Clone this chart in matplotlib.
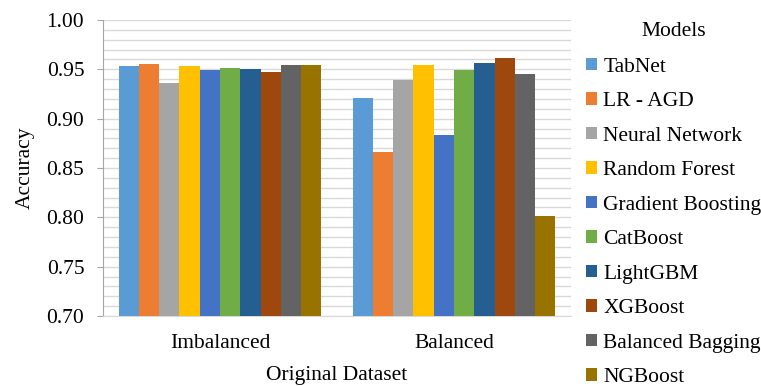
import matplotlib
matplotlib.use("Agg")
import matplotlib.pyplot as plt
import numpy as np
from matplotlib.ticker import MultipleLocator

plt.rcParams['font.family'] = ['Liberation Serif', 'DejaVu Serif']

categories = ["Imbalanced", "Balanced"]
models = ["TabNet", "LR - AGD", "Neural Network", "Random Forest", "Gradient Boosting",
          "CatBoost", "LightGBM", "XGBoost", "Balanced Bagging", "NGBoost"]
imbalanced = [0.953, 0.955, 0.936, 0.953, 0.949, 0.951, 0.950, 0.947, 0.954, 0.954]
balanced = [0.921, 0.866, 0.939, 0.954, 0.883, 0.949, 0.956, 0.961, 0.945, 0.801]
colors = ["#5B9BD5", "#ED7D31", "#A5A5A5", "#FFC000", "#4472C4",
          "#70AD47", "#255E91", "#9E480E", "#636363", "#997300"]

FS = 15.5
fig = plt.figure(figsize=(7.61, 3.86), dpi=100)
ax = fig.add_axes([103/761, 1-316/386, (571-103)/761, (316-20)/386])

n = len(models)
group_w = 0.867
bw = group_w / n
x = np.arange(len(categories))
for i, m in enumerate(models):
    vals = [imbalanced[i], balanced[i]]
    ax.bar(x - group_w/2 + bw*(i+0.5), vals, width=bw, color=colors[i], label=m,
           zorder=3, linewidth=0)

ax.set_xlim(-0.5, 1.5)
ax.set_ylim(0.70, 1.00)
ax.yaxis.set_major_locator(MultipleLocator(0.05))
ax.yaxis.set_minor_locator(MultipleLocator(0.01))
ax.yaxis.set_major_formatter(matplotlib.ticker.FormatStrFormatter('%.2f'))
ax.grid(axis='y', which='both', color='#D9D9D9', linewidth=1.0, zorder=0)
ax.set_axisbelow(True)
ax.set_xticks(x)
ax.set_xticklabels(categories, fontsize=FS)
ax.tick_params(axis='x', length=0, pad=13)
ax.tick_params(axis='y', which='major', length=4.5, color='#A6A6A6', labelsize=FS, pad=9)
ax.tick_params(axis='y', which='minor', length=0)
for s in ['top', 'right']:
    ax.spines[s].set_visible(False)
ax.spines['left'].set_color('#A6A6A6')
ax.spines['bottom'].set_color('#D9D9D9')
ax.set_ylabel("Accuracy", fontsize=FS, labelpad=8)
ax.set_xlabel("Original Dataset", fontsize=FS, labelpad=9.5)

leg = ax.legend(title="Models", loc='upper left', bbox_to_anchor=(586/761, 1-22/386),
                bbox_transform=fig.transFigure, frameon=False, fontsize=FS,
                title_fontsize=FS, handlelength=0.5, handleheight=0.5,
                handletextpad=0.3, labelspacing=0.72, borderaxespad=0, borderpad=0)
leg._legend_box.align = "center"
leg._legend_box.sep = 12

fig.savefig("out.png", dpi=100)
